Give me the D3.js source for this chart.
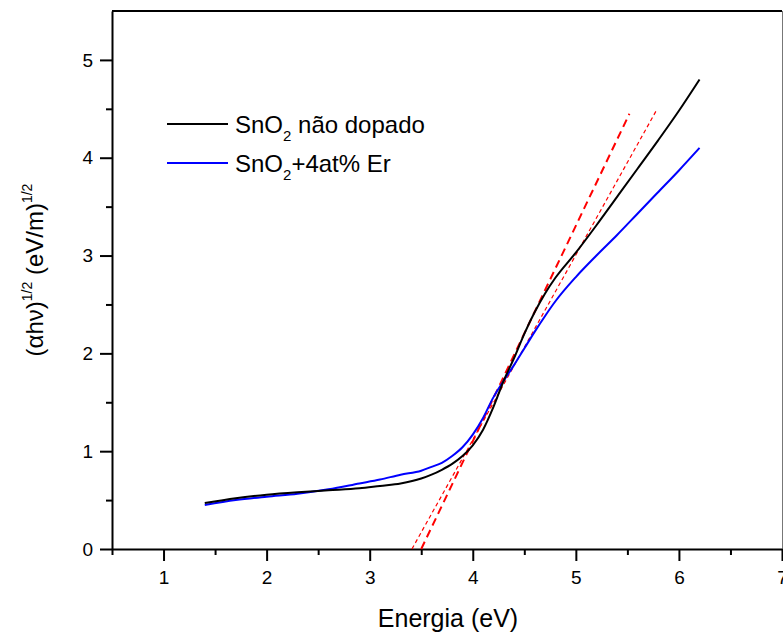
<!DOCTYPE html>
<html>
<head>
<meta charset="utf-8">
<script src="https://cdn.jsdelivr.net/npm/d3@7"></script>
<style>
  body { margin: 0; background: #fff; }
  text { font-family: Arial, "Liberation Sans", sans-serif; fill: #000; }
</style>
</head>
<body>
<div id="chart"></div>
<script>
// Photon energy (eV) sampled along both curves
const energy = [1.4, 1.7, 2.0, 2.3, 2.6, 2.9, 3.1, 3.3, 3.5, 3.6, 3.7, 3.8, 3.9, 4.0,
  4.1, 4.2, 4.3, 4.4, 4.5, 4.6, 4.7, 4.8, 5.0, 5.2, 5.4, 5.6, 5.8, 6.0, 6.2];

// (alpha h nu)^1/2 for undoped SnO2
const undoped = [0.47, 0.52, 0.555, 0.58, 0.60, 0.62, 0.645, 0.67, 0.72, 0.76, 0.81, 0.87, 0.95, 1.06,
  1.22, 1.45, 1.72, 1.95, 2.20, 2.42, 2.61, 2.77, 3.03, 3.31, 3.60, 3.89, 4.18, 4.48, 4.80];

// (alpha h nu)^1/2 for SnO2 + 4at% Er
const erDoped = [0.45, 0.50, 0.535, 0.565, 0.61, 0.67, 0.71, 0.76, 0.80, 0.84, 0.88, 0.95, 1.04, 1.17,
  1.34, 1.55, 1.72, 1.88, 2.05, 2.22, 2.38, 2.53, 2.78, 3.00, 3.21, 3.43, 3.65, 3.87, 4.10];

// linear extrapolations used for the band gap
const fitUndopedX = [3.5, 5.52];
const fitUndopedY = [0, 4.45];
const fitDopedX = [3.41, 5.79];
const fitDopedY = [0, 4.5];

const xTicks = [1, 2, 3, 4, 5, 6, 7];
const yTicks = [0, 1, 2, 3, 4, 5];
const xMinor = [0.5, 1.5, 2.5, 3.5, 4.5, 5.5, 6.5];
const yMinor = [0.5, 1.5, 2.5, 3.5, 4.5];

const legendLabels = ['não dopado', '+4at% Er'];

const width = 783, height = 634;
const plot = { left: 112, right: 782, top: 11, bottom: 549 };

const svg = d3.select('#chart').append('svg')
  .attr('width', width)
  .attr('height', height);

const x = d3.scaleLinear().domain([0.5, 7]).range([plot.left, plot.right]);
const y = d3.scaleLinear().domain([0, 5.5]).range([plot.bottom, plot.top]);

// frame (top and right)
svg.append('line')
  .attr('x1', plot.left).attr('x2', plot.right).attr('y1', plot.top).attr('y2', plot.top)
  .attr('stroke', '#000').attr('stroke-width', 2);
svg.append('line')
  .attr('x1', plot.right + 0.5).attr('x2', plot.right + 0.5).attr('y1', plot.top).attr('y2', plot.bottom)
  .attr('stroke', '#777').attr('stroke-width', 1);

// minor ticks
svg.append('g')
  .attr('transform', `translate(0,${plot.bottom})`)
  .call(d3.axisBottom(x).tickValues(xMinor).tickSize(6).tickFormat(''))
  .call(g => g.select('.domain').remove())
  .call(g => g.selectAll('line').attr('stroke-width', 2));
svg.append('g')
  .attr('transform', `translate(${plot.left},0)`)
  .call(d3.axisLeft(y).tickValues(yMinor).tickSize(6).tickFormat(''))
  .call(g => g.select('.domain').remove())
  .call(g => g.selectAll('line').attr('stroke-width', 2));

// major axes
const fmt = d3.format('d');
svg.append('g')
  .attr('transform', `translate(0,${plot.bottom})`)
  .call(d3.axisBottom(x).tickValues(xTicks).tickFormat(fmt).tickSize(12).tickSizeOuter(0).tickPadding(10))
  .call(g => g.select('.domain').attr('stroke-width', 2))
  .call(g => g.selectAll('line').attr('stroke-width', 2))
  .call(g => g.selectAll('text').style('font-size', '19px').style('font-family', 'Arial, "Liberation Sans", sans-serif'));

svg.append('g')
  .attr('transform', `translate(${plot.left},0)`)
  .call(d3.axisLeft(y).tickValues(yTicks).tickFormat(fmt).tickSize(12).tickSizeOuter(0).tickPadding(7))
  .call(g => g.select('.domain').attr('stroke-width', 2))
  .call(g => g.selectAll('line').attr('stroke-width', 2))
  .call(g => g.selectAll('text').style('font-size', '19px').style('font-family', 'Arial, "Liberation Sans", sans-serif'));

// fit lines
const fitLine = d3.line().x(d => x(d[0])).y(d => y(d[1]));
svg.append('path')
  .datum(d3.zip(fitUndopedX, fitUndopedY))
  .attr('d', fitLine)
  .attr('fill', 'none').attr('stroke', '#ff0000')
  .attr('stroke-width', 2).attr('stroke-dasharray', '8,5');
svg.append('path')
  .datum(d3.zip(fitDopedX, fitDopedY))
  .attr('d', fitLine)
  .attr('fill', 'none').attr('stroke', '#ff0000')
  .attr('stroke-width', 1.2).attr('stroke-dasharray', '4,3');

// data curves
const curve = d3.line().x(d => x(d[0])).y(d => y(d[1])).curve(d3.curveMonotoneX);
svg.append('path')
  .datum(d3.zip(energy, erDoped))
  .attr('d', curve)
  .attr('fill', 'none').attr('stroke', '#0000ff').attr('stroke-width', 2);
svg.append('path')
  .datum(d3.zip(energy, undoped))
  .attr('d', curve)
  .attr('fill', 'none').attr('stroke', '#000').attr('stroke-width', 2);

// legend
const legendColors = ['#000', '#0000ff'];
const legendRowY = [124, 163];
legendLabels.forEach((label, i) => {
  const ly = legendRowY[i];
  svg.append('line')
    .attr('x1', 167).attr('x2', 228).attr('y1', ly).attr('y2', ly)
    .attr('stroke', legendColors[i]).attr('stroke-width', 2);
  const t = svg.append('text')
    .attr('x', 235).attr('y', ly + 9)
    .style('font-size', '24px');
  t.append('tspan').text('SnO');
  t.append('tspan').attr('dy', 8).style('font-size', '15px').text('2');
  t.append('tspan').attr('dy', -8).text(i === 0 ? ' ' + label : label);
});

// axis titles
svg.append('text')
  .attr('x', 448).attr('y', 627)
  .attr('text-anchor', 'middle')
  .style('font-size', '25px')
  .text('Energia (eV)');

const yt = svg.append('text')
  .attr('transform', 'translate(43,270) rotate(-90)')
  .attr('text-anchor', 'middle')
  .style('font-size', '24px');
yt.append('tspan').text('(αhν)');
yt.append('tspan').attr('dy', -11).style('font-size', '14px').text('1/2');
yt.append('tspan').attr('dy', 11).text(' (eV/m)');
yt.append('tspan').attr('dy', -11).style('font-size', '14px').text('1/2');
</script>
</body>
</html>
